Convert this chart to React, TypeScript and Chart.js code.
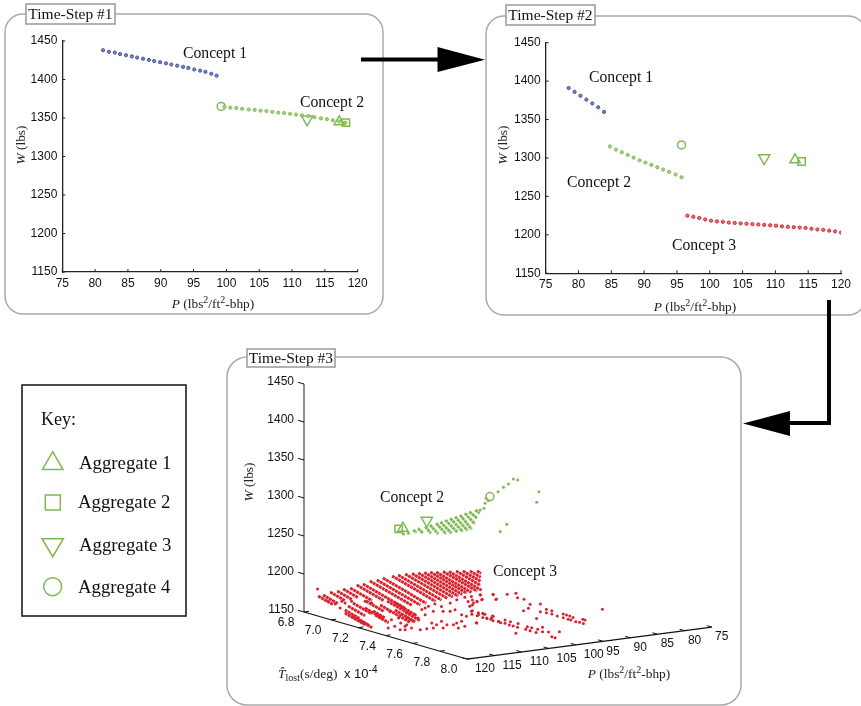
import React, { useEffect, useRef } from "react";
import { Chart, registerables } from "chart.js";

Chart.register(...registerables);

// ---------- shared axes ----------
const pTicks = [75, 80, 85, 90, 95, 100, 105, 110, 115, 120];
const wTicks = [1150, 1200, 1250, 1300, 1350, 1400, 1450];
const tTicks = [6.8, 7.0, 7.2, 7.4, 7.6, 7.8, 8.0];

// ---------- Time-Step #1 ----------
const s1Concept1P = [81.2, 82.1, 83, 83.8, 84.7, 85.6, 86.4, 87.3, 88.2, 89, 89.9, 90.8, 91.6, 92.5, 93.4, 94.2, 95.1, 96, 96.8, 97.7, 98.5];
const s1Concept1W = [1438, 1436, 1435, 1433, 1431.5, 1430, 1428.5, 1427, 1425.5, 1424, 1422.5, 1421, 1419.5, 1418, 1416.5, 1415, 1413, 1411.5, 1410, 1407.5, 1405];
const s1Concept2P = [99.7, 100.6, 101.5, 102.4, 103.4, 104.3, 105.2, 106.1, 107, 107.9, 108.8, 109.7, 110.6, 111.5, 112.5, 113.4, 114.4, 115.3, 116.2, 117.2, 118.1];
const s1Concept2W = [1364.5, 1363.5, 1363, 1362, 1361, 1360.5, 1359.5, 1359, 1358, 1357, 1356.5, 1355.5, 1354.5, 1353.5, 1352.5, 1351, 1349.5, 1348.5, 1347, 1345.5, 1344];
// Aggregates 1..4 as [P, W]
const s1Aggregates = [[117.2, 1345], [118.2, 1344], [112.3, 1348.3], [99.2, 1365]];

// ---------- Time-Step #2 ----------
const s2Concept1P = [78.5, 79.4, 80.3, 81.2, 82.1, 83, 83.9];
const s2Concept1W = [1391, 1386, 1381, 1376, 1371, 1366, 1360];
const s2Concept2P = [84.8, 85.7, 86.6, 87.5, 88.4, 89.3, 90.2, 91.1, 92, 92.9, 93.8, 94.8, 95.7];
const s2Concept2W = [1315, 1311, 1307.5, 1304, 1300.5, 1297, 1294, 1291, 1288, 1285, 1282, 1278.5, 1275];
const s2Concept3P = [96.6, 97.5, 98.4, 99.3, 100.2, 101.1, 102, 102.9, 103.8, 104.7, 105.6, 106.5, 107.4, 108.3, 109.2, 110.1, 111, 111.9, 112.8, 113.7, 114.6, 115.5, 116.4, 117.3, 118.2, 119.1, 120];
const s2Concept3W = [1225, 1223.5, 1222, 1220, 1218.5, 1217.5, 1217, 1216, 1215.5, 1215, 1214.5, 1214, 1213.5, 1213, 1212.5, 1212, 1211, 1210.5, 1210, 1209.5, 1209, 1208, 1207, 1206.5, 1205.5, 1204.5, 1203];
const s2Aggregates = [[113, 1297.6], [114, 1295.5], [108.3, 1300], [95.7, 1317]];

// ---------- Time-Step #3 (P, T, W) ----------
// Dense rows of designs: [P, T start, W start, T end, W end]
const s3Concept3Rows = [
  [119.9, 6.9, 1176.1, 7.01, 1170.4], [119, 6.9, 1176.6, 7.01, 1170.9], [117.7, 6.9, 1179.3, 7.01, 1173.6],
  [116.4, 6.9, 1179.5, 7.01, 1173.8], [115.3, 6.9, 1181.1, 7.01, 1175.4], [114, 6.9, 1181.2, 7.06, 1172.8],
  [112.8, 6.9, 1183.9, 7.1, 1173.6], [111.65, 6.9, 1184.2, 7.21, 1168.1], [110.4, 6.9, 1186.9, 7.21, 1170.8],
  [109.1, 6.9, 1187.1, 7.22, 1170.6], [108, 6.9, 1188.7, 7.22, 1171.8], [106.3, 6.9, 1189.7, 7.22, 1172.9],
  [105.2, 6.9, 1190, 7.22, 1173.5], [103.9, 6.9, 1190.1, 7.21, 1174], [102.65, 6.9, 1189.6, 7.2, 1173.9],
  [101.5, 6.9, 1189.2, 7.195, 1173.9], [100.4, 6.9, 1188.9, 7.18, 1174.3], [99.3, 6.9, 1188.5, 7.17, 1174.4],
  [98.2, 6.9, 1187.4, 7.16, 1174], [96.95, 6.9, 1186.9, 7.15, 1173.9], [95.85, 6.9, 1185.9, 7.14, 1173.6],
  [94.55, 6.9, 1185.3, 7.08, 1175.7], [93.3, 6.9, 1184.1, 7.03, 1177.2], [92, 6.9, 1182.9, 6.98, 1178.7],
  [90.7, 6.9, 1181.7, 6.93, 1180.1],
  [117.5, 7, 1160.6, 7.11, 1154.9], [116.9, 7, 1165.3, 7.125, 1158.8], [116, 7, 1168.4, 7.14, 1161.1],
  [120, 7.1, 1164.1, 7.25, 1156.5], [118.7, 7.1, 1159, 7.25, 1151.3], [119.7, 7.2, 1159.8, 7.27, 1156],
  [117.3, 7.2, 1169.4, 7.29, 1164.8], [116, 7.2, 1176.1, 7.42, 1164.6], [114.7, 7.2, 1180.2, 7.37, 1171.4],
  [118.6, 7.2, 1183.8, 7.33, 1176.9], [118.8, 7.2, 1174.7, 7.325, 1168.2], [116.9, 7.2, 1163.8, 7.3, 1158.8],
  [113.3, 7.2, 1166.9, 7.35, 1159.2], [113.3, 7.2, 1176.2, 7.36, 1167.8], [111.4, 7.2, 1162.6, 7.31, 1156.9],
];
// Sparse designs, [P, W], grouped by their T value
const s3Concept3SparseT690 = [[120, 1185.4]];
const s3Concept3SparseT695 = [[119.3, 1171.1], [118, 1166.4], [116.8, 1168.8], [117.1, 1160.3], [116.2, 1166], [115, 1167.1], [112.5, 1164.8], [111.3, 1161.4]];
const s3Concept3SparseT740 = [
  [117, 1174.7], [115.8, 1178.8], [117.2, 1163.8], [116, 1169.3], [116.1, 1160.6], [116.4, 1154.3], [115.2, 1155.4], [115.5, 1166.6],
  [119.2, 1181], [119.5, 1159.4], [118.3, 1160.5], [117.3, 1155.2], [118.9, 1169.8], [116.4, 1158.7], [117.6, 1170.8], [116.1, 1169.4],
];
const s3Concept3SparseT760 = [
  [119.6, 1187.3], [118.3, 1192.8], [117.1, 1196], [115.9, 1197.9], [114.7, 1193.7], [113.1, 1196.7], [111.9, 1199.9], [110.4, 1201.6],
  [114.4, 1186.9], [116.2, 1188.6], [117.7, 1185.6], [119, 1182.4], [119.9, 1178.9], [118.6, 1166.7], [117.4, 1166.9], [116.5, 1173.5],
  [115.6, 1170.5], [114.7, 1174], [114.4, 1164.9], [116.2, 1166.7], [113.1, 1185.7], [112.2, 1187], [111, 1179.3], [110.1, 1176.3],
  [109.2, 1182], [109.8, 1195.7], [108.8, 1192.7], [109.5, 1188.9], [108.2, 1194.3], [107.3, 1195.6], [107.6, 1202.5], [105.2, 1200.2],
  [104.6, 1193.9], [109.2, 1201.7], [107.9, 1176.4], [107, 1176.5], [106.4, 1170.6], [105.5, 1169.8], [105.2, 1171.7], [104.2, 1164.2],
  [108.2, 1165.8], [111.9, 1169.2], [111, 1170.6], [112.5, 1167.6], [111.6, 1162.4], [110.4, 1163.4], [113.7, 1168.7], [117.7, 1194.4],
];
const s3Concept3SparseT800 = [
  [117.5, 1231.9], [115.2, 1230.6], [112.6, 1228.2], [111, 1228], [110.7, 1222], [109.5, 1218.7], [108.4, 1211.1], [108.7, 1206.1],
  [109.6, 1203.9], [106.5, 1209.7], [117.2, 1225.9], [114.7, 1223.5], [118.1, 1223.7], [119, 1226.7], [119, 1220.1], [119, 1212.6],
  [117.9, 1209], [117.1, 1207.4], [116.7, 1205.7], [119.1, 1208], [118.1, 1205.3], [117.1, 1202.1], [116.3, 1200], [115.6, 1198.1],
  [115.2, 1195.9], [115.3, 1202.2], [114.2, 1193.7], [113.8, 1192], [113, 1194.8], [112, 1191.6], [113, 1190.4], [112.2, 1187.5],
  [111.5, 1185.5], [110.7, 1183], [110.6, 1188.1], [118.3, 1196.3], [111, 1175.4], [108.9, 1182.2], [108.1, 1180.1], [109.2, 1179],
  [108.4, 1176.5], [107, 1176.9], [107.3, 1173.2], [106.1, 1178.7], [106.1, 1173], [105, 1171.5], [103, 1170.1], [104.4, 1164.8],
  [103.8, 1162.9], [107.2, 1191.5], [106.5, 1199.6], [105.4, 1201.7], [104.4, 1199], [105.4, 1197.3], [104.4, 1194.7], [103.4, 1191],
  [102.3, 1192.6], [102.3, 1187.8], [101.7, 1190.8], [101.1, 1188.9], [100.5, 1186.5], [101.4, 1184.8], [100.9, 1183.5], [100, 1180.4],
  [99.3, 1178.9], [98.6, 1176.9], [98.7, 1182.3], [98.3, 1181], [95.1, 1192.1],
];
const s3Concept2Rows = [
  [114.9, 7.4, 1284.1, 7.425, 1281.9], [114, 7.4, 1285.4, 7.437, 1280.7], [112.7, 7.4, 1286.5, 7.442, 1279.9],
  [111.8, 7.4, 1287.8, 7.461, 1279.1], [110.7, 7.4, 1289, 7.474, 1278.8], [109.9, 7.4, 1290.4, 7.481, 1279.2],
  [109, 7.4, 1291.8, 7.491, 1279.8], [108.1, 7.4, 1293.1, 7.493, 1280.4], [107.2, 7.4, 1294.5, 7.491, 1280.8],
  [106.3, 7.4, 1295.8, 7.486, 1281.4], [105.4, 7.4, 1297.1, 7.474, 1286.9], [104.6, 7.4, 1298.6, 7.459, 1292.9],
  [103.5, 7.4, 1299.8, 7.432, 1297.1],
];
const s3Concept2SparseT740 = [
  [116.7, 1280.6], [115.8, 1280.6], [102.6, 1298.9], [101.7, 1306.9], [101.9, 1300.5], [101.1, 1309.8], [101.5, 1313.3], [99.3, 1319.9],
  [98.3, 1324.8], [97.4, 1328.3], [96.5, 1334], [95.7, 1332], [91.8, 1312.9], [92.2, 1299.3], [97.7, 1275.5], [98.9, 1267],
];
const s3AggregatesT = 7.4;
const s3Aggregates = [[116.8, 1288.2], [117.6, 1288], [112.4, 1294.1], [100.8, 1314.8]];

// ---------- colours ----------
const BLUE = "#414fa3";
const BLUE_FILL = "#7d87c2";
const GREEN = "#7fb954";
const GREEN_FILL = "#a8d08a";
const RED = "#d8232f";
const RED_FILL = "#e86d73";
const SANS = "'Liberation Sans', Arial, sans-serif";
const SERIF = "'Liberation Serif', 'Times New Roman', serif";

const zip = (xs: number[], ys: number[]) => xs.map((x, i) => ({ x, y: ys[i] }));

const dots = (xs: number[], ys: number[], c: string, f: string) => ({
  data: zip(xs, ys),
  pointRadius: 1.6,
  pointBorderWidth: 1,
  pointBackgroundColor: f,
  pointBorderColor: c,
  showLine: false,
});

const aggregateStyle = [
  { pointStyle: "triangle", rotation: 0, radius: 6 },
  { pointStyle: "rect", rotation: 0, radius: 5.2 },
  { pointStyle: "triangle", rotation: 180, radius: 6.5 },
  { pointStyle: "circle", rotation: 0, radius: 4 },
];

const aggregateSets = (pts: { x: number; y: number }[]) =>
  pts.map((p, i) => ({
    data: [p],
    pointStyle: aggregateStyle[i].pointStyle,
    rotation: aggregateStyle[i].rotation,
    pointRadius: aggregateStyle[i].radius,
    pointBorderWidth: 1.5,
    pointBorderColor: GREEN,
    pointBackgroundColor: "rgba(0,0,0,0)",
    showLine: false,
  }));

// Inward tick marks, as on the original axes
const inwardTicks = {
  id: "inwardTicks",
  afterDraw(chart: any) {
    const { ctx, scales, chartArea } = chart;
    ctx.save();
    ctx.strokeStyle = "#222";
    ctx.lineWidth = 1;
    pTicks.forEach((v) => {
      const x = scales.x.getPixelForValue(v);
      ctx.beginPath();
      ctx.moveTo(x, chartArea.bottom);
      ctx.lineTo(x, chartArea.bottom - 3);
      ctx.stroke();
    });
    wTicks.forEach((v) => {
      const y = scales.y.getPixelForValue(v);
      ctx.beginPath();
      ctx.moveTo(chartArea.left, y);
      ctx.lineTo(chartArea.left + 3, y);
      ctx.stroke();
    });
    ctx.restore();
  },
};

function flatConfig(datasets: any[], box: { yw: number; xh: number; top: number; right: number }) {
  return {
    type: "scatter" as const,
    data: { datasets },
    plugins: [inwardTicks],
    options: {
      animation: false as const,
      responsive: false,
      layout: { autoPadding: false, padding: { top: box.top, right: box.right, left: 0, bottom: 0 } },
      plugins: { legend: { display: false }, tooltip: { enabled: false } },
      scales: {
        x: {
          type: "linear" as const,
          min: 75,
          max: 120,
          afterFit: (s: any) => { s.height = box.xh; },
          afterBuildTicks: (s: any) => { s.ticks = pTicks.map((value) => ({ value })); },
          grid: { display: false, tickLength: 0 },
          border: { display: true, color: "#222", width: 1.3 },
          ticks: { color: "#111", font: { family: SANS, size: 12 }, padding: 4, maxRotation: 0, autoSkip: false, callback: (v: any) => String(v) },
        },
        y: {
          type: "linear" as const,
          min: 1150,
          max: 1450,
          afterFit: (s: any) => { s.width = box.yw; },
          afterBuildTicks: (s: any) => { s.ticks = wTicks.map((value) => ({ value })); },
          grid: { display: false, tickLength: 0 },
          border: { display: true, color: "#222", width: 1.3 },
          ticks: { color: "#111", font: { family: SANS, size: 12 }, padding: 5, autoSkip: false, callback: (v: any) => String(v) },
        },
      },
    },
  };
}

// Oblique view used by Time-Step #3: P, T and W map onto the page plane.
const VIEW = { left: 228, top: 358, width: 512, height: 346 };
const project = (P: number, T: number, W: number) => ({
  x: 304 + 135.8 * (T - 6.8) + 5.44 * (120 - P),
  y: 612 + 39.2 * (T - 6.8) - 0.711 * (120 - P) - 0.76 * (W - 1150),
});

const sparse = (pts: number[][], T: number, c: string, radius = 1.5) => ({
  data: pts.map(([P, W]) => project(P, T, W)),
  pointRadius: radius,
  pointBorderWidth: 0,
  pointBackgroundColor: c,
  showLine: false,
});

const row = (r: number[], c: string, width: number, dash: number[]) => ({
  data: [project(r[0], r[1], r[2]), project(r[0], r[3], r[4])],
  showLine: true,
  pointRadius: 0,
  borderColor: c,
  borderWidth: width,
  borderDash: dash,
  borderCapStyle: "butt",
});

const axes3d = {
  id: "axes3d",
  afterDraw(chart: any) {
    const { ctx, scales } = chart;
    const px = (p: { x: number; y: number }) => ({ x: scales.x.getPixelForValue(p.x), y: scales.y.getPixelForValue(p.y) });
    const seg = (a: { x: number; y: number }, b: { x: number; y: number }) => {
      const A = px(a), B = px(b);
      ctx.beginPath();
      ctx.moveTo(A.x, A.y);
      ctx.lineTo(B.x, B.y);
      ctx.stroke();
    };
    const sh = (p: { x: number; y: number }, dx: number, dy: number) => ({ x: p.x + dx, y: p.y + dy });
    ctx.save();
    ctx.lineWidth = 1.2;
    ctx.strokeStyle = "#444";
    seg(project(120, 6.8, 1150), project(120, 6.8, 1450));
    ctx.strokeStyle = "#111";
    seg(project(120, 6.8, 1150), project(120, 8, 1150));
    seg(project(120, 8, 1150), project(75, 8, 1150));
    ctx.lineWidth = 1;
    ctx.fillStyle = "#111";
    ctx.font = `12px ${SANS}`;
    ctx.textBaseline = "middle";
    ctx.textAlign = "right";
    wTicks.forEach((w) => {
      const a = project(120, 6.8, w);
      seg(a, sh(a, -6, -1.7));
      const p = px(a);
      ctx.fillText(String(w), p.x - 10, p.y - 2);
    });
    ctx.textAlign = "center";
    tTicks.forEach((t) => {
      const a = project(120, t, 1150);
      seg(a, sh(a, 5, -0.7));
      const p = px(a);
      ctx.fillText(t.toFixed(1), p.x - 18, p.y + 11);
    });
    pTicks.forEach((v) => {
      const a = project(v, 8, 1150);
      seg(a, sh(a, -5, -1.4));
      const p = px(a);
      ctx.fillText(String(v), p.x + (v >= 100 ? 18 : 10), p.y + 10);
    });
    ctx.restore();
  },
};

const view3dDatasets = () => [
  ...s3Concept3Rows.map((r) => row(r, RED, 2.9, [3, 0.5])),
  sparse(s3Concept3SparseT690, 6.9, RED),
  sparse(s3Concept3SparseT695, 6.95, RED),
  sparse(s3Concept3SparseT740, 7.4, RED),
  sparse(s3Concept3SparseT760, 7.6, RED),
  sparse(s3Concept3SparseT800, 8, RED),
  ...s3Concept2Rows.map((r) => row(r, GREEN, 2.9, [3, 0.5])),
  sparse(s3Concept2SparseT740, 7.4, GREEN),
  ...aggregateSets(s3Aggregates.map(([P, W]) => project(P, s3AggregatesT, W))),
];

function Lbl({ x, y, t, size = 15.7 }: { x: number; y: number; t: string; size?: number }) {
  return <text x={x} y={y} fontFamily={SERIF} fontSize={size} fill="#111">{t}</text>;
}

function PTitle({ x, y }: { x: number; y: number }) {
  return (
    <text x={x} y={y} fontFamily={SERIF} fontSize={13.4} fill="#222" textAnchor="middle">
      <tspan fontStyle="italic">P</tspan> (lbs<tspan dy={-5} fontSize={10}>2</tspan><tspan dy={5}>/ft</tspan><tspan dy={-5} fontSize={10}>2</tspan><tspan dy={5}>-bhp)</tspan>
    </text>
  );
}

function WTitle({ x, y }: { x: number; y: number }) {
  return (
    <text transform={`translate(${x} ${y}) rotate(-90)`} fontFamily={SERIF} fontSize={13.4} fill="#222" textAnchor="middle">
      <tspan fontStyle="italic">W</tspan> (lbs)
    </text>
  );
}

function TitleBox({ x, y, w, h, t, base }: { x: number; y: number; w: number; h: number; t: string; base: number }) {
  return (
    <g>
      <rect x={x} y={y} width={w} height={h} fill="#fff" stroke="#999" strokeWidth={1.5} />
      <text x={x + w / 2} y={base} textAnchor="middle" fontFamily={SERIF} fontSize={15.5} fill="#111">{t}</text>
    </g>
  );
}

export default function App() {
  const c1 = useRef<HTMLCanvasElement>(null);
  const c2 = useRef<HTMLCanvasElement>(null);
  const c3 = useRef<HTMLCanvasElement>(null);

  useEffect(() => {
    document.body.style.margin = "0";
    document.body.style.background = "#fff";
    const toPts = (a: number[][]) => a.map(([x, y]) => ({ x, y }));
    const chart1 = new Chart(c1.current!, flatConfig([
      dots(s1Concept1P, s1Concept1W, BLUE, BLUE_FILL),
      dots(s1Concept2P, s1Concept2W, GREEN, GREEN_FILL),
      ...aggregateSets(toPts(s1Aggregates)),
    ], { yw: 56.3, xh: 40, top: 13, right: 24.3 }) as any);
    const chart2 = new Chart(c2.current!, flatConfig([
      dots(s2Concept1P, s2Concept1W, BLUE, BLUE_FILL),
      dots(s2Concept2P, s2Concept2W, GREEN, GREEN_FILL),
      dots(s2Concept3P, s2Concept3W, RED, RED_FILL),
      ...aggregateSets(toPts(s2Aggregates)),
    ], { yw: 56.7, xh: 38.7, top: 12.7, right: 20 }) as any);
    const chart3 = new Chart(c3.current!, {
      type: "scatter",
      data: { datasets: view3dDatasets() },
      plugins: [axes3d],
      options: {
        animation: false,
        responsive: false,
        layout: { autoPadding: false, padding: 0 },
        plugins: { legend: { display: false }, tooltip: { enabled: false } },
        scales: {
          x: { type: "linear", display: false, min: VIEW.left, max: VIEW.left + VIEW.width },
          y: { type: "linear", display: false, reverse: true, min: VIEW.top, max: VIEW.top + VIEW.height },
        },
      },
    } as any);
    return () => {
      chart1.destroy();
      chart2.destroy();
      chart3.destroy();
    };
  }, []);

  const abs = (l: number, t: number): React.CSSProperties => ({ position: "absolute", left: l, top: t });

  return (
    <div style={{ position: "absolute", left: 0, top: 0, width: 861, height: 706, overflow: "hidden", background: "#fff" }}>
      <canvas ref={c1} width={376} height={284} style={abs(6, 28)} />
      <canvas ref={c2} width={372} height={282} style={abs(489, 30)} />
      <canvas ref={c3} width={VIEW.width} height={VIEW.height} style={abs(VIEW.left, VIEW.top)} />
      <svg width={861} height={706} style={{ ...abs(0, 0), pointerEvents: "none" }}>
        <rect x={5} y={14} width={378} height={300} rx={18} fill="none" stroke="#aaa" strokeWidth={1.5} />
        <rect x={486} y={16} width={380} height={299} rx={18} fill="none" stroke="#aaa" strokeWidth={1.5} />
        <rect x={227} y={357} width={514} height={348} rx={20} fill="none" stroke="#aaa" strokeWidth={1.5} />

        <TitleBox x={26} y={4} w={89} h={20} t="Time-Step #1" base={19} />
        <TitleBox x={506} y={5} w={89} h={20} t="Time-Step #2" base={20} />
        <TitleBox x={247} y={349} w={88} h={18} t="Time-Step #3" base={363} />

        <Lbl x={183} y={58} t="Concept 1" />
        <Lbl x={300} y={107} t="Concept 2" />
        <Lbl x={589} y={82} t="Concept 1" />
        <Lbl x={567} y={187} t="Concept 2" />
        <Lbl x={672} y={250} t="Concept 3" />
        <Lbl x={380} y={502} t="Concept 2" />
        <Lbl x={493} y={576} t="Concept 3" />

        <PTitle x={213} y={308} />
        <PTitle x={695} y={311} />
        <PTitle x={629} y={678} />
        <WTitle x={24.5} y={145} />
        <WTitle x={506.5} y={145} />
        <WTitle x={253} y={482} />

        <text x={278} y={678} fontFamily={SERIF} fontSize={13.5} fill="#222">
          <tspan fontStyle="italic">{"T\u0302"}</tspan>
          <tspan dy={3} fontSize={10}>lost</tspan>
          <tspan dy={-3}>(s/deg)</tspan>
        </text>
        <text x={344} y={678} fontFamily={SANS} fontSize={13} fill="#111">
          x 10<tspan dy={-5} fontSize={10}>-4</tspan>
        </text>

        {/* arrows */}
        <line x1={361} y1={59.5} x2={440} y2={59.5} stroke="#000" strokeWidth={4} />
        <polygon points="437.5,47 485,59.7 437.5,72" fill="#000" />
        <polyline points="829,300 829,423 785,423" fill="none" stroke="#000" strokeWidth={4} />
        <polygon points="790,411 743,423.5 790,436" fill="#000" />

        {/* key */}
        <rect x={22} y={385} width={164} height={231} fill="#fff" stroke="#111" strokeWidth={1.5} />
        <Lbl x={41} y={425} t="Key:" size={18} />
        <Lbl x={79} y={469} t="Aggregate 1" size={18.8} />
        <Lbl x={78} y={508} t="Aggregate 2" size={18.8} />
        <Lbl x={79} y={551} t="Aggregate 3" size={18.8} />
        <Lbl x={78} y={593} t="Aggregate 4" size={18.8} />
        <polygon points="52.7,451.7 63,469.5 42.4,469.5" fill="none" stroke={GREEN} strokeWidth={1.5} />
        <rect x={45.3} y={495} width={15} height={15} fill="none" stroke={GREEN} strokeWidth={1.5} />
        <polygon points="42,538.7 63.4,538.7 52.7,556.7" fill="none" stroke={GREEN} strokeWidth={1.5} />
        <circle cx={52.7} cy={586.7} r={9} fill="none" stroke={GREEN} strokeWidth={1.5} />
      </svg>
    </div>
  );
}
